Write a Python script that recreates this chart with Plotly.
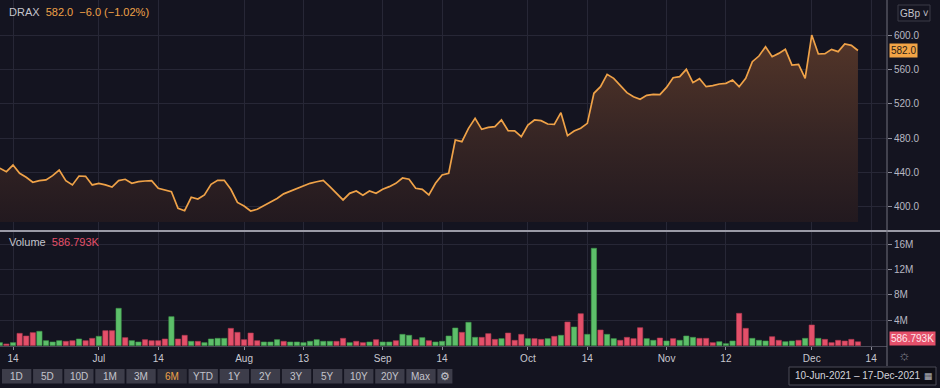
import pandas as pd
import plotly.graph_objects as go

# ---------------- data ----------------
TICKER = "DRAX"
LAST_PRICE = 582.0
CHANGE = -6.0
CHANGE_PCT = -1.02
LAST_VOLUME = 586793
CAL_START, CAL_END = "2021-06-10", "2021-12-17"
HOLIDAYS = ["2021-08-30"]

CLOSE = [
    444.7, 440.8, 448.5, 438.9, 434.2, 428.4, 430.3, 431.1, 436.1, 442.7,
    430.3, 425.3, 435.7, 435.4, 425.3, 427.2, 425.3, 422.9, 430.3, 431.9,
    427.2, 429.1, 429.9, 430.3, 421.4, 419.4, 417.5, 398.1, 395.3, 410.9,
    408.9, 413.6, 426.0, 430.7, 430.7, 420.2, 404.9, 400.8, 395.0, 397.0,
    401.1, 404.8, 409.6, 414.9, 418.0, 420.2, 424.0, 427.2, 429.0, 430.7,
    423.3, 415.5, 407.8, 415.5, 418.3, 413.2, 418.3, 415.5, 420.2, 423.3,
    427.2, 433.4, 431.9, 421.4, 420.2, 413.6, 427.2, 436.9, 438.9, 477.7,
    475.7, 491.3, 502.9, 490.1, 492.4, 493.2, 501.0, 488.5, 488.2, 481.6,
    495.1, 501.0, 500.2, 496.3, 495.9, 509.5, 482.7, 488.2, 491.3, 497.1,
    532.1, 539.8, 554.2, 549.5, 540.6, 532.8, 528.1, 525.1, 529.7, 530.9,
    530.5, 539.0, 550.3, 551.5, 560.0, 544.5, 549.1, 539.8, 541.0, 542.9,
    543.7, 547.6, 539.8, 549.5, 568.9, 575.5, 586.4, 574.8, 578.6, 583.3,
    565.0, 565.8, 549.5, 600.0, 577.9, 578.3, 583.3, 580.6, 589.5, 588.0,
    582.0,
]

VOLUME_M = [
    0.45, 0.24, 0.45, 1.92, 1.50, 2.03, 2.24, 0.76, 0.55, 0.76,
    0.66, 0.76, 1.03, 0.76, 1.13, 1.45, 2.34, 2.34, 5.87, 1.24,
    0.76, 0.55, 0.92, 0.76, 0.76, 1.03, 4.55, 1.03, 1.61, 0.66,
    0.66, 0.45, 1.03, 1.13, 1.13, 2.71, 2.08, 0.92, 1.97, 0.76,
    0.55, 0.55, 0.92, 0.66, 0.55, 0.55, 0.45, 0.66, 0.92, 0.66,
    0.66, 0.66, 1.13, 0.45, 0.66, 0.45, 0.55, 0.92, 0.55, 0.55,
    0.76, 1.76, 1.61, 0.92, 1.24, 0.76, 0.55, 0.66, 1.50, 2.76,
    2.08, 3.66, 1.29, 1.29, 1.87, 0.97, 1.08, 1.97, 0.82, 1.76,
    1.08, 1.08, 0.97, 1.08, 1.45, 1.61, 3.71, 2.92, 5.02, 1.76,
    15.35, 2.45, 1.76, 1.08, 0.82, 1.29, 1.08, 2.81, 1.08, 0.82,
    1.18, 0.71, 1.08, 0.82, 1.50, 1.29, 1.13, 1.13, 0.45, 0.60,
    0.29, 0.71, 5.08, 2.71, 1.13, 0.82, 0.71, 1.39, 0.82, 0.60,
    0.71, 0.82, 1.13, 3.24, 1.13, 0.97, 0.45, 0.82, 0.71, 0.97,
    0.587,
]

# u = up day (green bar), d = down day (red bar)
DIRECTION = list(
    "ududdduuuu"
    "ddudduddud"
    "uudddduddu"
    "duuuuddddd"
    "uuuduuuuuu"
    "uddudduduu"
    "duududuuuu"
    "duudddudd"
    "d"
    "uddudud"
    "udu"
    "uduuddddu"
    "ududuuuddd"
    "uuudduuudd"
    "uudududddd"
    "dd"
)

TICK_DATES = ["2021-06-14", "2021-07-01", "2021-07-14", "2021-08-02", "2021-08-13",
              "2021-09-01", "2021-09-14", "2021-10-01", "2021-10-14", "2021-11-01",
              "2021-11-12", "2021-12-01", "2021-12-14"]
TICK_LABELS = ["14", "Jul", "14", "Aug", "13", "Sep", "14", "Oct", "14", "Nov",
               "12", "Dec", "14"]
PRICE_TICKS = [400, 440, 480, 520, 560, 600]
VOLUME_TICKS = [4e6, 8e6, 12e6, 16e6]
VOLUME_TICK_LABELS = ["4M", "8M", "12M", "16M"]
BUTTONS = ["1D", "5D", "10D", "1M", "3M", "6M", "YTD", "1Y", "2Y", "3Y", "5Y", "10Y", "20Y", "Max"]
ACTIVE_BUTTON = "6M"
DATE_RANGE_TEXT = "10-Jun-2021 – 17-Dec-2021"
CURRENCY = "GBp"
FILL_BASE = 382.0

# ---------------- derived ----------------
cal = [d for d in pd.bdate_range(CAL_START, CAL_END) if d.strftime("%Y-%m-%d") not in HOLIDAYS]
cal_str = [d.strftime("%Y-%m-%d") for d in cal]
n = len(CLOSE)
xs = list(range(n))
tick_pos = [cal_str.index(d) for d in TICK_DATES]
volumes = [v * 1e6 for v in VOLUME_M]
dirs = (DIRECTION + ["d"] * n)[:n]

BG = "#141420"
GRID = "#272736"
ORANGE = "#efa248"
GREEN = "#5dbf6a"
RED = "#e4506a"
TXT = "#bcbcc6"
FONT = "Liberation Sans"

W, H = 940, 388
PW, PH = 887, 346  # plot area size in px (margins: l0 r53 t0 b42)


def px_x(p):
    return p / PW


def px_y(p):
    return (PH - p) / PH


fig = go.Figure()

# fill baseline (invisible)
fig.add_trace(go.Scatter(x=xs, y=[FILL_BASE] * n, mode="lines", line=dict(width=0),
                         hoverinfo="skip", showlegend=False, xaxis="x", yaxis="y"))
fig.add_trace(go.Scatter(
    x=xs, y=CLOSE, mode="lines", line=dict(color=ORANGE, width=1.7),
    fill="tonexty",
    fillgradient=dict(type="vertical", start=FILL_BASE, stop=600,
                      colorscale=[[0, "rgb(34,25,31)"], [0.45, "rgb(54,37,36)"], [1, "rgb(84,54,41)"]]),
    showlegend=False, xaxis="x", yaxis="y"))

bar_colors = [GREEN if d == "u" else RED for d in dirs]
bar_lines = ["#3f9a4c" if d == "u" else "#b23a50" for d in dirs]
fig.add_trace(go.Bar(x=xs, y=volumes, marker=dict(color=bar_colors, line=dict(color=bar_lines, width=0.6)),
                     width=0.8, showlegend=False, xaxis="x2", yaxis="y2"))

xr = [0.03, 134.4]
common_x = dict(range=xr, tickvals=tick_pos, ticktext=TICK_LABELS, showgrid=True, gridcolor=GRID,
                gridwidth=1, zeroline=False, fixedrange=True)
fig.update_layout(
    width=W, height=H,
    margin=dict(l=0, r=W - PW, t=0, b=H - PH),
    paper_bgcolor=BG, plot_bgcolor=BG,
    font=dict(family=FONT, color=TXT, size=10),
    hovermode=False,
    bargap=0.2,
    xaxis=dict(domain=[0, 1], anchor="y", showticklabels=False, ticks="", **common_x),
    xaxis2=dict(domain=[0, 1], anchor="y2", matches="x", showticklabels=True, ticks="outside",
                ticklen=3, tickcolor="#8a8a96", showline=True, linecolor="#4a4a58",
                tickfont=dict(size=10, color="#c8c8d0"), **common_x),
    yaxis=dict(domain=[px_y(230), 1], anchor="x", side="right", range=[372.8, 640.8],
               tickvals=PRICE_TICKS, tickformat=".1f", ticks="outside", ticklen=4,
               tickcolor="#8a8a96", showgrid=True, gridcolor=GRID, zeroline=False,
               tickfont=dict(size=10, color="#b8b8c2")),
    yaxis2=dict(domain=[0, px_y(232)], anchor="x2", side="right", range=[-0.08e6, 17.92e6],
                tickvals=VOLUME_TICKS, ticktext=VOLUME_TICK_LABELS, ticks="outside", ticklen=4,
                tickcolor="#8a8a96", showgrid=True, gridcolor=GRID, zeroline=False,
                tickfont=dict(size=10, color="#b8b8c2")),
)

shapes = []
# pane separator
shapes.append(dict(type="line", xref="paper", yref="paper", x0=0, x1=px_x(W), y0=px_y(231), y1=px_y(231),
                   line=dict(color="#9a9aa6", width=2)))
# right axis line
shapes.append(dict(type="line", xref="paper", yref="paper", x0=1, x1=1, y0=px_y(0), y1=px_y(366),
                   line=dict(color="#70707c", width=1)))
# range buttons
bx0, bstep, bw = 2, 31.1, 29.3
for k, b in enumerate(BUTTONS):
    x0 = bx0 + k * bstep
    shapes.append(dict(type="rect", xref="paper", yref="paper", x0=px_x(x0), x1=px_x(x0 + bw),
                       y0=px_y(383.5), y1=px_y(369), line=dict(width=0),
                       fillcolor="#2e2e3a" if b == ACTIVE_BUTTON else "#3d3d4a"))
gx0 = bx0 + len(BUTTONS) * bstep
shapes.append(dict(type="rect", xref="paper", yref="paper", x0=px_x(gx0), x1=px_x(gx0 + 15),
                   y0=px_y(383.5), y1=px_y(369), line=dict(width=0), fillcolor="#3d3d4a"))
# date range box
shapes.append(dict(type="rect", xref="paper", yref="paper", x0=px_x(789), x1=px_x(936),
                   y0=px_y(385), y1=px_y(367), line=dict(color="#4a4a56", width=1), fillcolor="#0e0e16"))
# currency box
shapes.append(dict(type="rect", xref="paper", yref="paper", x0=px_x(898), x1=px_x(930),
                   y0=px_y(21), y1=px_y(5), line=dict(color="#3a3a46", width=1), fillcolor=BG))
fig.update_layout(shapes=shapes)

ann = []
ann.append(dict(xref="paper", yref="paper", x=px_x(7), y=px_y(12), xanchor="left", yanchor="middle",
                showarrow=False,
                text=f"<span style='color:#c4c4cc'>{TICKER}</span>  "
                     f"<span style='color:{ORANGE}'>{LAST_PRICE:.1f}  −{abs(CHANGE):.1f} (−{abs(CHANGE_PCT):.2f}%)</span>",
                font=dict(size=11)))
ann.append(dict(xref="paper", yref="paper", x=px_x(7), y=px_y(242), xanchor="left", yanchor="middle",
                showarrow=False,
                text=f"<span style='color:#c4c4cc'>Volume</span>  "
                     f"<span style='color:{RED}'>{LAST_VOLUME / 1000:.3f}K</span>",
                font=dict(size=11)))
# last price tag
ann.append(dict(xref="paper", yref="y", x=1, y=LAST_PRICE, xanchor="left", yanchor="middle", xshift=2,
                showarrow=False, text=f"{LAST_PRICE:.1f}", bgcolor="#f2a446",
                font=dict(size=10, color="#2a2016"), borderpad=1))
# last volume tag
ann.append(dict(xref="paper", yref="y2", x=1, y=LAST_VOLUME, xanchor="left", yanchor="middle", xshift=2,
                yshift=3, showarrow=False, text=f"{LAST_VOLUME / 1000:.3f}K", bgcolor="#e4506a",
                font=dict(size=10, color="#ffe8ec"), borderpad=1))
# currency
ann.append(dict(xref="paper", yref="paper", x=px_x(914), y=px_y(13), xanchor="center", yanchor="middle",
                showarrow=False, text=f"{CURRENCY} ˅", font=dict(size=10, color="#c4c4cc")))
# gear below axis
ann.append(dict(xref="paper", yref="paper", x=px_x(905), y=px_y(355), xanchor="center", yanchor="middle",
                showarrow=False, text="☼", font=dict(size=14, color="#8e8e9a")))
# buttons text
for k, b in enumerate(BUTTONS):
    x0 = bx0 + k * bstep
    ann.append(dict(xref="paper", yref="paper", x=px_x(x0 + bw / 2), y=px_y(376.3), xanchor="center",
                    yanchor="middle", showarrow=False, text=b,
                    font=dict(size=10, color=ORANGE if b == ACTIVE_BUTTON else "#c4c4cc")))
ann.append(dict(xref="paper", yref="paper", x=px_x(gx0 + 7.5), y=px_y(376.3), xanchor="center",
                yanchor="middle", showarrow=False, text="⚙", font=dict(size=11, color="#c4c4cc")))
# date range
ann.append(dict(xref="paper", yref="paper", x=px_x(793), y=px_y(376), xanchor="left", yanchor="middle",
                showarrow=False, text=DATE_RANGE_TEXT, font=dict(size=10, color="#d4d4dc")))
ann.append(dict(xref="paper", yref="paper", x=px_x(929), y=px_y(376), xanchor="center", yanchor="middle",
                showarrow=False, text="▦", font=dict(size=9, color="#b4b4bc")))
fig.update_layout(annotations=ann)

fig.write_html("out.html", config={"displayModeBar": False})

# remove the default page margin so the figure sits at the window's top-left corner
with open("out.html", "r", encoding="utf-8") as fh:
    html = fh.read()
html = html.replace("<head>", "<head><style>html,body{margin:0;padding:0;background:#141420;overflow:hidden}</style>", 1)
with open("out.html", "w", encoding="utf-8") as fh:
    fh.write(html)
